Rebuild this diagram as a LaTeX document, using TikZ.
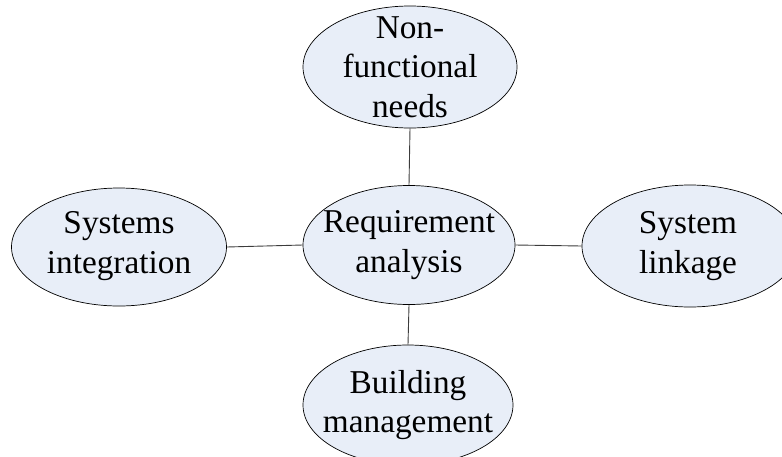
\documentclass[tikz,border=0pt]{standalone}
\usepackage{fontspec}
\setmainfont{Liberation Serif}
\usetikzlibrary{shapes.geometric}
\definecolor{bubblefill}{RGB}{232,238,248}
\definecolor{edgegray}{RGB}{60,60,60}
\tikzset{
  bubble/.style={ellipse, draw=black, line width=0.7pt, fill=bubblefill, inner sep=0pt},
  bubbletext/.style={align=center, inner sep=0pt, font=\fontsize{33.3}{39.5}\selectfont},
  link/.style={draw=edgegray, line width=0.9pt}
}
\begin{document}
\begin{tikzpicture}[x=1pt, y=-1pt]
\useasboundingbox (0,0) rectangle (782,456);
\node[bubble, minimum width=214pt, minimum height=122pt] (T) at (410,67) {};
\node[bubble, minimum width=212pt, minimum height=119pt] (C) at (409,245) {};
\node[bubble, minimum width=215pt, minimum height=118pt] (L) at (119,247) {};
\node[bubble, minimum width=216pt, minimum height=122pt] (R) at (690,246) {};
\node[bubble, minimum width=210pt, minimum height=120pt] (B) at (408,405) {};
\node[bubbletext] (Tt) at (T.center) {Non-\\functional\\needs};
\node[bubbletext] (Ct) at (C.center) {Requirement\\analysis};
\node[bubbletext] (Lt) at ([yshift=1pt]L.center) {Systems\\integration};
\node[bubbletext] (Rt) at ([xshift=-2pt]R.center) {System\\linkage};
\node[bubbletext] (Bt) at (B.center) {Building\\management};
\draw[link] (T.south) -- (C.north);
\draw[link] (L.east) -- (C.west);
\draw[link] (C.east) -- (R.west);
\draw[link] (C.south) -- (B.north);
\end{tikzpicture}
\end{document}
